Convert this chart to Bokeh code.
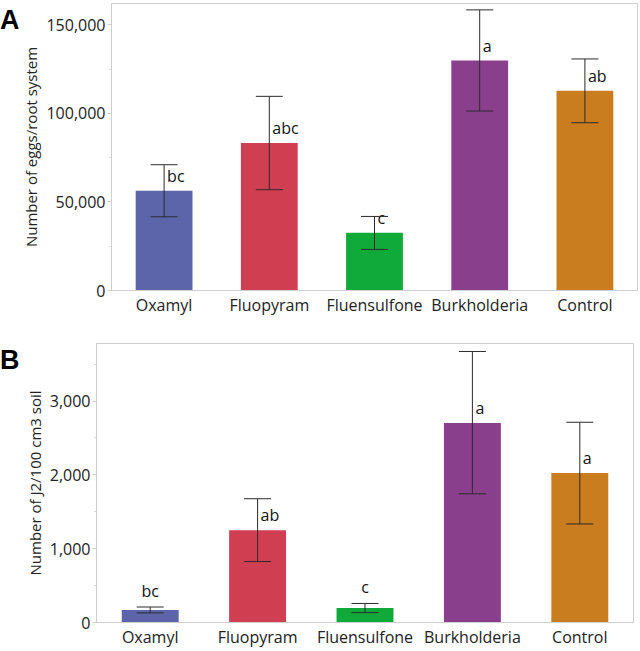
from bokeh.plotting import figure
from bokeh.models import (ColumnDataSource, Whisker, TeeHead, FixedTicker,
                          NumeralTickFormatter, Range1d, Div)
from bokeh.layouts import column, row
from bokeh.embed import file_html
from bokeh.resources import INLINE
from bokeh.core.properties import value

treatments = ["Oxamyl", "Fluopyram", "Fluensulfone", "Burkholderia", "Control"]
colors = ["#5c64aa", "#d03e52", "#0faa3a", "#8a3f8d", "#c97d1e"]

eggs_mean = [56300, 83200, 32600, 129800, 112800]
eggs_upper = [71000, 109600, 41800, 158400, 130700]
eggs_lower = [41600, 56900, 23200, 101300, 94700]
eggs_letters = ["bc", "abc", "c", "a", "ab"]
eggs_place = ["side", "side", "side", "side", "side"]

j2_mean = [170, 1249, 197, 2704, 2025]
j2_upper = [210, 1677, 258, 3672, 2713]
j2_lower = [130, 826, 134, 1744, 1335]
j2_letters = ["bc", "ab", "c", "a", "a"]
j2_place = ["top", "side", "top", "side", "side"]

FONT = "Open Sans"
GRID = "#cfcfcf"
DIV_W = 18


def make_panel(mean, upper, lower, letters, place, ymax, ticks, minor, ylabel,
               width, height, bl, br, bt, bb, bar_w):
    lab_y, lab_xo, lab_align, lab_yo = [], [], [], []
    for m, u, pl in zip(mean, upper, place):
        if pl == "top":
            lab_y.append(u); lab_xo.append(0); lab_align.append("center"); lab_yo.append(-5)
        else:
            lab_y.append(m); lab_xo.append(3); lab_align.append("left"); lab_yo.append(-4)
    src = ColumnDataSource(dict(x=treatments, top=mean, upper=upper, lower=lower,
                                color=colors, letter=letters, ly=lab_y, lxo=lab_xo,
                                lal=lab_align, lyo=lab_yo))
    p = figure(x_range=treatments, y_range=Range1d(0, ymax), width=width, height=height,
               output_backend="svg", toolbar_location=None, min_border_left=bl,
               min_border_right=br, min_border_top=bt, min_border_bottom=bb)
    p.margin = 0
    p.vbar(x="x", top="top", width=bar_w, color="color", source=src, line_color=None)
    w = Whisker(source=src, base="x", upper="upper", lower="lower",
                line_color="#2b2b2b", line_width=1, level="overlay",
                upper_head=TeeHead(size=27, line_color="#2b2b2b", line_width=1),
                lower_head=TeeHead(size=27, line_color="#2b2b2b", line_width=1))
    p.add_layout(w)
    p.text(x="x", y="ly", text="letter", x_offset="lxo", y_offset="lyo",
           text_align="lal", text_baseline="bottom", source=src,
           text_font=value(FONT), text_font_size="16px", text_color="#111111")
    p.xgrid.visible = False
    p.ygrid.visible = False
    p.outline_line_color = GRID
    p.outline_line_width = 1
    p.yaxis.ticker = FixedTicker(ticks=ticks, minor_ticks=minor)
    p.yaxis.formatter = NumeralTickFormatter(format="0,0")
    for ax in (p.xaxis[0], p.yaxis[0]):
        ax.axis_line_color = GRID
        ax.major_tick_line_color = GRID
        ax.minor_tick_line_color = GRID
        ax.major_label_text_font = FONT
        ax.major_label_text_font_size = "16px"
        ax.major_label_text_color = "#222222"
    p.yaxis.major_tick_out = 4
    p.yaxis.major_tick_in = 0
    p.yaxis.minor_tick_out = 2
    p.yaxis.minor_tick_in = 0
    p.yaxis.major_label_standoff = 2
    p.xaxis.major_tick_line_color = None
    p.xaxis.minor_tick_line_color = None
    p.xaxis.major_tick_out = 0
    p.xaxis.major_label_standoff = 3
    p.yaxis.axis_label = ylabel
    p.yaxis.axis_label_text_font = FONT
    p.yaxis.axis_label_text_font_size = "15px"
    p.yaxis.axis_label_text_font_style = "normal"
    p.yaxis.axis_label_text_color = "#222222"
    p.yaxis.axis_label_standoff = 2
    return p


def panel_div(letter, height, pad_top):
    d = Div(text=letter, width=DIV_W, height=height, margin=0,
            styles={"font-family": "Liberation Sans, Arial, sans-serif",
                    "font-weight": "bold", "font-size": "27px", "color": "#000000",
                    "padding-top": f"{pad_top}px", "line-height": "1"})
    return d


pa = make_panel(eggs_mean, eggs_upper, eggs_lower, eggs_letters, eggs_place, 162000,
                [0, 50000, 100000, 150000], [25000, 75000, 125000],
                "Number of eggs/root system", 640 - DIV_W, 320, 90, 3, 3, 30, 0.54)
pb = make_panel(j2_mean, j2_upper, j2_lower, j2_letters, j2_place, 3780,
                [0, 1000, 2000, 3000], [500, 1500, 2500, 3500],
                "Number of J2/100 cm3 soil", 640 - DIV_W, 330, 78, 7, 23, 25, 0.53)

layout = column(row(panel_div("A", 40, 7), pa, spacing=0),
                row(panel_div("B", 60, 27), pb, spacing=0), spacing=0)
open("out.html", "w").write(file_html(layout, INLINE))
